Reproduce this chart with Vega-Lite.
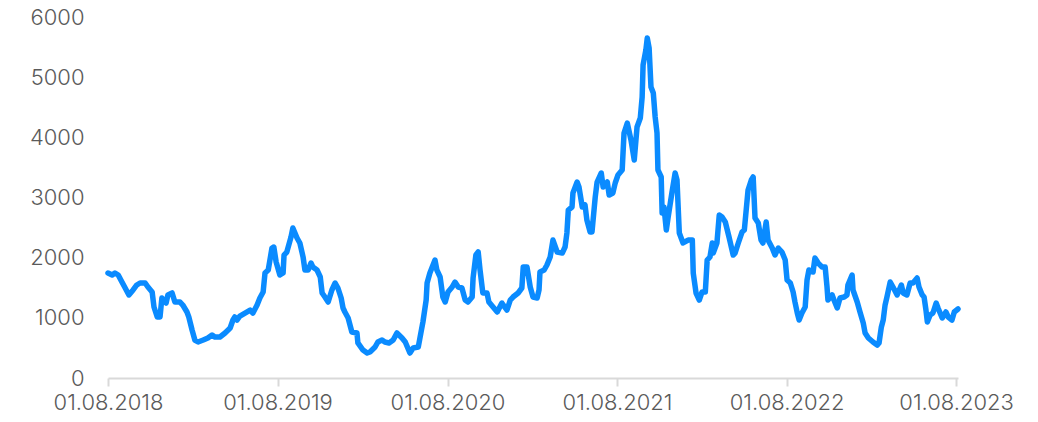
{
  "$schema": "https://vega.github.io/schema/vega-lite/v6.json",
  "autosize": "none",
  "width": 850,
  "height": 361,
  "padding": {"left": 108, "top": 17, "right": 80, "bottom": 44},
  "background": "white",
  "config": {"view": {"stroke": null}},
  "data": {"values": [
    {"date":"2018-08-01","v":1745},{"date":"2018-08-10","v":1712},{"date":"2018-08-16","v":1745},{"date":"2018-08-23","v":1712},{"date":"2018-08-31","v":1595},{"date":"2018-09-07","v":1496},{"date":"2018-09-15","v":1380},{"date":"2018-09-24","v":1463},{"date":"2018-10-02","v":1546},{"date":"2018-10-09","v":1579},{"date":"2018-10-20","v":1579},{"date":"2018-10-26","v":1512},{"date":"2018-11-04","v":1430},{"date":"2018-11-08","v":1180},{"date":"2018-11-15","v":1014},{"date":"2018-11-21","v":1014},{"date":"2018-11-25","v":1330},{"date":"2018-12-04","v":1246},{"date":"2018-12-08","v":1380},{"date":"2018-12-17","v":1413},{"date":"2018-12-23","v":1263},
    {"date":"2019-01-03","v":1263},{"date":"2019-01-09","v":1213},{"date":"2019-01-18","v":1097},{"date":"2019-01-22","v":1014},{"date":"2019-01-29","v":798},{"date":"2019-02-04","v":631},{"date":"2019-02-11","v":598},{"date":"2019-02-22","v":631},{"date":"2019-03-04","v":665},{"date":"2019-03-13","v":715},{"date":"2019-03-19","v":681},{"date":"2019-03-30","v":681},{"date":"2019-04-10","v":748},{"date":"2019-04-21","v":831},{"date":"2019-04-27","v":964},{"date":"2019-05-01","v":1014},{"date":"2019-05-06","v":964},{"date":"2019-05-12","v":1030},{"date":"2019-05-23","v":1080},{"date":"2019-06-03","v":1130},{"date":"2019-06-09","v":1080},{"date":"2019-06-18","v":1213},{"date":"2019-06-24","v":1330},{"date":"2019-07-01","v":1430},{"date":"2019-07-05","v":1745},{"date":"2019-07-12","v":1795},{"date":"2019-07-20","v":2160},{"date":"2019-07-24","v":2177},{"date":"2019-07-29","v":1928},{"date":"2019-08-06","v":1712},{"date":"2019-08-13","v":1745},{"date":"2019-08-15","v":2044},{"date":"2019-08-21","v":2094},{"date":"2019-08-30","v":2343},{"date":"2019-09-03","v":2493},{"date":"2019-09-12","v":2327},{"date":"2019-09-18","v":2244},{"date":"2019-09-25","v":2011},{"date":"2019-09-29","v":1795},{"date":"2019-10-06","v":1795},{"date":"2019-10-12","v":1911},{"date":"2019-10-16","v":1845},{"date":"2019-10-25","v":1795},{"date":"2019-11-01","v":1679},{"date":"2019-11-05","v":1413},{"date":"2019-11-11","v":1346},{"date":"2019-11-18","v":1263},{"date":"2019-11-26","v":1463},{"date":"2019-12-03","v":1579},{"date":"2019-12-09","v":1496},{"date":"2019-12-16","v":1330},{"date":"2019-12-20","v":1163},{"date":"2019-12-24","v":1097},{"date":"2019-12-31","v":997},
    {"date":"2020-01-08","v":765},{"date":"2020-01-19","v":748},{"date":"2020-01-21","v":582},{"date":"2020-02-01","v":465},{"date":"2020-02-10","v":415},{"date":"2020-02-16","v":432},{"date":"2020-02-27","v":515},{"date":"2020-03-04","v":598},{"date":"2020-03-13","v":631},{"date":"2020-03-19","v":598},{"date":"2020-03-28","v":582},{"date":"2020-04-06","v":631},{"date":"2020-04-14","v":748},{"date":"2020-04-25","v":665},{"date":"2020-05-02","v":598},{"date":"2020-05-12","v":415},{"date":"2020-05-19","v":499},{"date":"2020-05-30","v":515},{"date":"2020-06-03","v":681},{"date":"2020-06-09","v":931},{"date":"2020-06-16","v":1296},{"date":"2020-06-18","v":1579},{"date":"2020-06-24","v":1745},{"date":"2020-07-05","v":1961},{"date":"2020-07-09","v":1795},{"date":"2020-07-16","v":1679},{"date":"2020-07-22","v":1346},{"date":"2020-07-27","v":1263},{"date":"2020-08-02","v":1430},{"date":"2020-08-11","v":1512},{"date":"2020-08-17","v":1595},{"date":"2020-08-24","v":1512},{"date":"2020-09-01","v":1496},{"date":"2020-09-08","v":1296},{"date":"2020-09-14","v":1263},{"date":"2020-09-23","v":1346},{"date":"2020-09-25","v":1662},{"date":"2020-10-01","v":2044},{"date":"2020-10-06","v":2094},{"date":"2020-10-10","v":1795},{"date":"2020-10-16","v":1413},{"date":"2020-10-25","v":1413},{"date":"2020-10-29","v":1263},{"date":"2020-11-07","v":1180},{"date":"2020-11-16","v":1097},{"date":"2020-11-26","v":1246},{"date":"2020-12-07","v":1130},{"date":"2020-12-14","v":1296},{"date":"2020-12-20","v":1346},{"date":"2020-12-31","v":1413},
    {"date":"2021-01-08","v":1496},{"date":"2021-01-11","v":1845},{"date":"2021-01-19","v":1845},{"date":"2021-01-26","v":1512},{"date":"2021-02-01","v":1346},{"date":"2021-02-10","v":1330},{"date":"2021-02-14","v":1463},{"date":"2021-02-16","v":1762},{"date":"2021-02-25","v":1795},{"date":"2021-03-03","v":1878},{"date":"2021-03-10","v":2011},{"date":"2021-03-16","v":2293},{"date":"2021-03-25","v":2094},{"date":"2021-04-05","v":2077},{"date":"2021-04-11","v":2177},{"date":"2021-04-15","v":2410},{"date":"2021-04-18","v":2792},{"date":"2021-04-26","v":2842},{"date":"2021-04-28","v":3075},{"date":"2021-05-07","v":3257},{"date":"2021-05-11","v":3174},{"date":"2021-05-18","v":2842},{"date":"2021-05-24","v":2875},{"date":"2021-05-28","v":2626},{"date":"2021-06-04","v":2426},{"date":"2021-06-08","v":2426},{"date":"2021-06-13","v":2842},{"date":"2021-06-15","v":3008},{"date":"2021-06-19","v":3257},{"date":"2021-06-28","v":3407},{"date":"2021-07-02","v":3174},{"date":"2021-07-11","v":3257},{"date":"2021-07-15","v":3041},{"date":"2021-07-23","v":3075},{"date":"2021-07-28","v":3241},{"date":"2021-08-03","v":3374},{"date":"2021-08-12","v":3457},{"date":"2021-08-16","v":4072},{"date":"2021-08-23","v":4238},{"date":"2021-08-31","v":3955},{"date":"2021-09-07","v":3623},{"date":"2021-09-13","v":4171},{"date":"2021-09-20","v":4321},{"date":"2021-09-24","v":4670},{"date":"2021-09-26","v":5202},{"date":"2021-10-02","v":5451},{"date":"2021-10-05","v":5651},{"date":"2021-10-09","v":5484},{"date":"2021-10-13","v":4836},{"date":"2021-10-18","v":4737},{"date":"2021-10-22","v":4338},{"date":"2021-10-26","v":4072},{"date":"2021-10-28","v":3457},{"date":"2021-11-04","v":3341},{"date":"2021-11-06","v":2742},{"date":"2021-11-10","v":2842},{"date":"2021-11-15","v":2460},{"date":"2021-11-19","v":2676},{"date":"2021-11-27","v":3075},{"date":"2021-12-04","v":3407},{"date":"2021-12-08","v":3291},{"date":"2021-12-13","v":2410},{"date":"2021-12-21","v":2244},
    {"date":"2022-01-01","v":2293},{"date":"2022-01-10","v":2293},{"date":"2022-01-12","v":1745},{"date":"2022-01-18","v":1413},{"date":"2022-01-25","v":1296},{"date":"2022-01-31","v":1430},{"date":"2022-02-07","v":1430},{"date":"2022-02-11","v":1961},{"date":"2022-02-17","v":2011},{"date":"2022-02-22","v":2244},{"date":"2022-02-24","v":2077},{"date":"2022-03-04","v":2244},{"date":"2022-03-09","v":2709},{"date":"2022-03-15","v":2676},{"date":"2022-03-22","v":2593},{"date":"2022-03-30","v":2343},{"date":"2022-04-08","v":2044},{"date":"2022-04-12","v":2077},{"date":"2022-04-19","v":2244},{"date":"2022-04-27","v":2426},{"date":"2022-05-02","v":2460},{"date":"2022-05-06","v":2792},{"date":"2022-05-10","v":3124},{"date":"2022-05-17","v":3291},{"date":"2022-05-21","v":3341},{"date":"2022-05-25","v":2659},{"date":"2022-06-01","v":2576},{"date":"2022-06-07","v":2293},{"date":"2022-06-11","v":2244},{"date":"2022-06-18","v":2593},{"date":"2022-06-22","v":2293},{"date":"2022-07-01","v":2160},{"date":"2022-07-07","v":2044},{"date":"2022-07-14","v":2160},{"date":"2022-07-22","v":2094},{"date":"2022-07-29","v":1961},{"date":"2022-08-02","v":1629},{"date":"2022-08-09","v":1579},{"date":"2022-08-15","v":1430},{"date":"2022-08-19","v":1263},{"date":"2022-08-24","v":1080},{"date":"2022-08-28","v":964},{"date":"2022-09-03","v":1080},{"date":"2022-09-10","v":1180},{"date":"2022-09-14","v":1629},{"date":"2022-09-18","v":1795},{"date":"2022-09-27","v":1762},{"date":"2022-10-01","v":1994},{"date":"2022-10-08","v":1911},{"date":"2022-10-16","v":1845},{"date":"2022-10-23","v":1845},{"date":"2022-10-27","v":1512},{"date":"2022-10-29","v":1296},{"date":"2022-11-07","v":1380},{"date":"2022-11-11","v":1296},{"date":"2022-11-18","v":1163},{"date":"2022-11-24","v":1330},{"date":"2022-12-03","v":1346},{"date":"2022-12-09","v":1380},{"date":"2022-12-11","v":1546},{"date":"2022-12-20","v":1712},{"date":"2022-12-22","v":1463},{"date":"2022-12-31","v":1263},
    {"date":"2023-01-06","v":1097},{"date":"2023-01-13","v":914},{"date":"2023-01-17","v":748},{"date":"2023-01-24","v":665},{"date":"2023-02-03","v":598},{"date":"2023-02-12","v":548},{"date":"2023-02-16","v":582},{"date":"2023-02-21","v":848},{"date":"2023-02-25","v":964},{"date":"2023-03-01","v":1213},{"date":"2023-03-05","v":1346},{"date":"2023-03-12","v":1595},{"date":"2023-03-18","v":1512},{"date":"2023-03-27","v":1380},{"date":"2023-04-05","v":1546},{"date":"2023-04-09","v":1413},{"date":"2023-04-17","v":1380},{"date":"2023-04-24","v":1579},{"date":"2023-04-30","v":1579},{"date":"2023-05-09","v":1662},{"date":"2023-05-13","v":1512},{"date":"2023-05-20","v":1380},{"date":"2023-05-24","v":1346},{"date":"2023-05-28","v":1130},{"date":"2023-05-31","v":931},{"date":"2023-06-06","v":1047},{"date":"2023-06-12","v":1080},{"date":"2023-06-19","v":1246},{"date":"2023-06-23","v":1163},{"date":"2023-07-02","v":997},{"date":"2023-07-10","v":1097},{"date":"2023-07-15","v":1014},{"date":"2023-07-23","v":964},{"date":"2023-07-28","v":1097},{"date":"2023-08-05","v":1147}
  ]},
  "mark": {"type": "line", "color": "#0a8bff", "strokeWidth": 5.5, "strokeJoin": "round", "strokeCap": "round"},
  "encoding": {
    "x": {
      "field": "date", "type": "temporal",
      "scale": {"domain": ["2018-08-01", "2023-08-05"]},
      "axis": {
        "title": null, "grid": false,
        "values": ["2018-08-01", "2019-08-01", "2020-08-01", "2021-08-01", "2022-08-01", "2023-08-01"],
        "format": "%d.%m.%Y",
        "domainColor": "#d9d9d9", "domainWidth": 2,
        "tickColor": "#d9d9d9", "tickWidth": 2, "tickSize": 8,
        "labelFont": "Inter", "labelFontSize": 22, "labelFontWeight": 300, "labelColor": "#5a5a5a",
        "labelPadding": 6, "labelFlush": false, "labelOverlap": false
      }
    },
    "y": {
      "field": "v", "type": "quantitative",
      "scale": {"domain": [0, 6000], "nice": false},
      "axis": {
        "title": null, "grid": false, "domain": false, "ticks": false,
        "values": [0, 1000, 2000, 3000, 4000, 5000, 6000],
        "format": "d",
        "labelFont": "Inter", "labelFontSize": 22, "labelFontWeight": 300, "labelColor": "#5a5a5a",
        "labelPadding": 24
      }
    }
  }
}
